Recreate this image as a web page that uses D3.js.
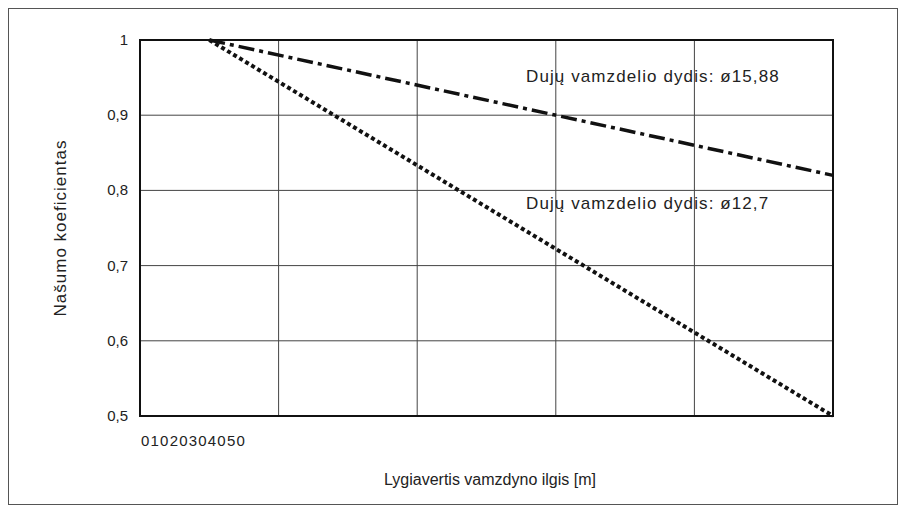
<!DOCTYPE html>
<html><head><meta charset="utf-8">
<script src="https://cdn.jsdelivr.net/npm/d3@7"></script>
<style>body{margin:0;background:#fff;font-family:"Liberation Sans",Arial,sans-serif;}</style>
</head><body><div id="chart"></div>
<script>
const xTicks = [0, 10, 20, 30, 40, 50];
const yTicks = [0.5, 0.6, 0.7, 0.8, 0.9, 1];
const pipe1588 = [{x: 5, y: 1}, {x: 50, y: 0.82}];
const pipe127 = [{x: 5, y: 1}, {x: 50, y: 0.5}];
const labels = ["Dujų vamzdelio dydis: ø15,88", "Dujų vamzdelio dydis: ø12,7"];

const margin = {top: 40, right: 74, bottom: 96, left: 140};
const W = 907, H = 512;
const width = W - margin.left - margin.right;
const height = H - margin.top - margin.bottom;

const svg = d3.select("#chart").append("svg").attr("width", W).attr("height", H);
svg.append("rect").attr("x", 8.5).attr("y", 8.5).attr("width", 889).attr("height", 496)
  .attr("fill", "none").attr("stroke", "#555").attr("stroke-width", 1);

const g = svg.append("g").attr("transform", `translate(${margin.left},${margin.top})`);
const x = d3.scaleLinear().domain([0, 50]).range([0, width]);
const y = d3.scaleLinear().domain([0.5, 1]).range([height, 0]);

// grid
g.selectAll(".hg").data(yTicks).enter().append("line")
  .attr("x1", 0).attr("x2", width).attr("y1", d => y(d)).attr("y2", d => y(d))
  .attr("stroke", "#444").attr("stroke-width", 1);
g.selectAll(".vg").data(xTicks).enter().append("line")
  .attr("y1", 0).attr("y2", height).attr("x1", d => x(d)).attr("x2", d => x(d))
  .attr("stroke", "#444").attr("stroke-width", 1);
g.append("rect").attr("width", width).attr("height", height)
  .attr("fill", "none").attr("stroke", "#111").attr("stroke-width", 2);

// y labels
g.selectAll(".yl").data(yTicks).enter().append("text")
  .attr("x", -12).attr("y", d => y(d) + 5).attr("text-anchor", "end")
  .attr("font-size", 15).attr("fill", "#222")
  .text(d => String(d).replace(".", ","));

// x labels (crammed together, as in source)
g.append("text").attr("x", 1).attr("y", height + 30).attr("font-size", 15)
  .attr("letter-spacing", 1.2).attr("fill", "#222")
  .selectAll("tspan").data(xTicks).enter().append("tspan").text(d => d);

svg.append("text").attr("transform", "translate(66,228) rotate(-90)").attr("text-anchor", "middle")
  .attr("font-size", 17).attr("letter-spacing", 1).attr("fill", "#222").text("Našumo koeficientas");
svg.append("text").attr("x", 490).attr("y", 485).attr("text-anchor", "middle")
  .attr("font-size", 16).attr("fill", "#222").text("Lygiavertis vamzdyno ilgis [m]");

const line = d3.line().x(d => x(d.x)).y(d => y(d.y));
g.append("path").datum(pipe1588).attr("d", line).attr("fill", "none")
  .attr("stroke", "#111").attr("stroke-width", 3.5).attr("stroke-dasharray", "16,5,4,5");
g.append("path").datum(pipe127).attr("d", line).attr("fill", "none")
  .attr("stroke", "#111").attr("stroke-width", 4).attr("stroke-dasharray", "4,3");

g.append("text").attr("x", x(27.85)).attr("y", y(0.944)).attr("font-size", 17)
  .attr("letter-spacing", 1.1).attr("fill", "#222").text(labels[0]);
g.append("text").attr("x", x(27.85)).attr("y", y(0.775)).attr("font-size", 17)
  .attr("letter-spacing", 1.1).attr("fill", "#222").text(labels[1]);
</script></body></html>
